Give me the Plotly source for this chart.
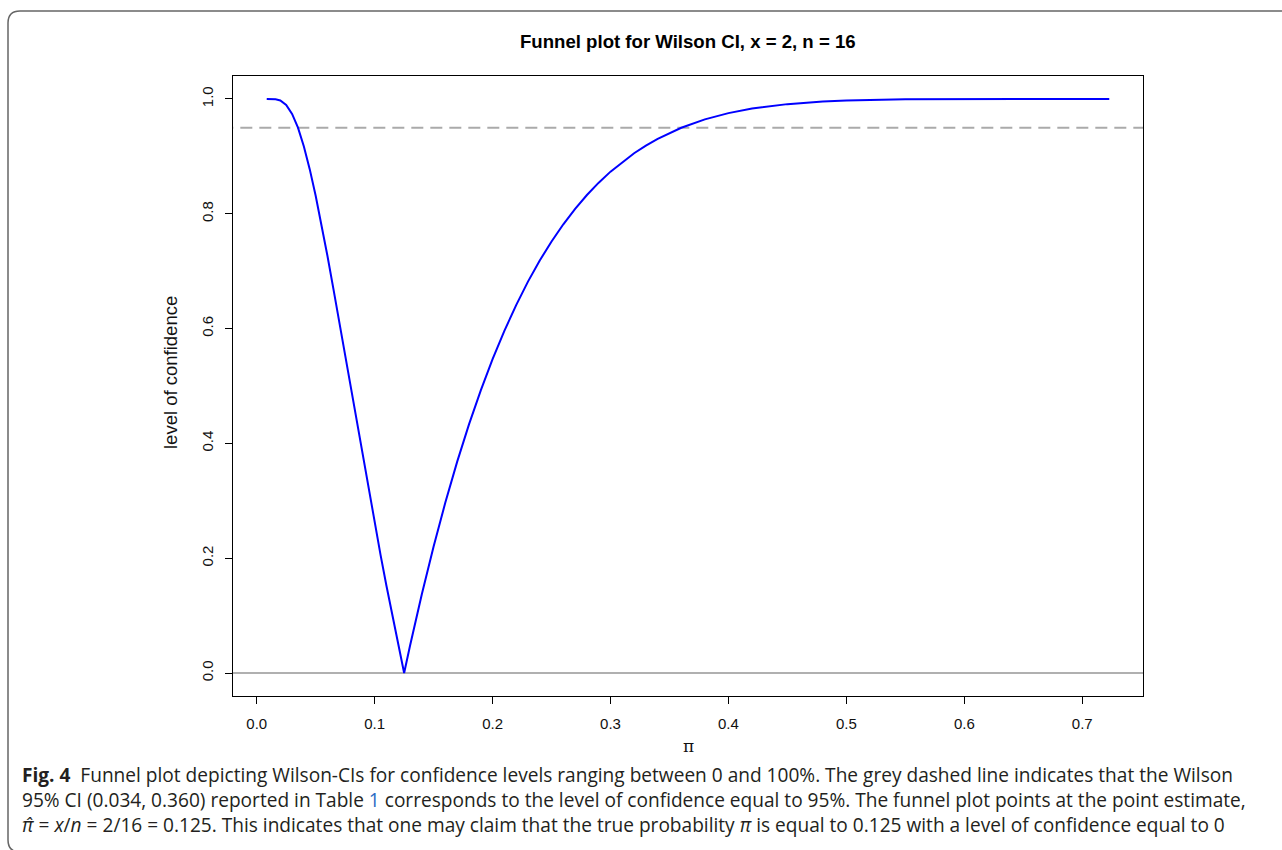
import plotly.graph_objects as go

# ---- data ----
pi_vals = [0.0085, 0.012, 0.016, 0.02, 0.025, 0.03, 0.035, 0.04, 0.045, 0.05,
           0.055, 0.06, 0.065, 0.07, 0.075, 0.08, 0.085, 0.09, 0.095, 0.10,
           0.105, 0.11, 0.115, 0.12, 0.125, 0.13, 0.14, 0.15, 0.16, 0.17,
           0.18, 0.19, 0.20, 0.21, 0.22, 0.23, 0.24, 0.25, 0.26, 0.27,
           0.28, 0.29, 0.30, 0.32, 0.33, 0.34, 0.35, 0.36, 0.38, 0.40,
           0.42, 0.45, 0.48, 0.50, 0.55, 0.60, 0.65, 0.7229]
conf_vals = [1.0, 1.0, 0.9995, 0.9973, 0.9896, 0.974, 0.9499, 0.9173, 0.8773, 0.8314,
             0.7806, 0.7264, 0.6697, 0.6114, 0.5523, 0.4930, 0.4338, 0.3753, 0.3176, 0.2611,
             0.2059, 0.1521, 0.0998, 0.0491, 0.0, 0.0474, 0.1373, 0.2206, 0.2974, 0.3682,
             0.4331, 0.4925, 0.5467, 0.5961, 0.6410, 0.6818, 0.7186, 0.7518, 0.7817, 0.8086,
             0.8327, 0.8542, 0.8734, 0.9055, 0.9188, 0.9305, 0.9408, 0.9498, 0.9644, 0.9753,
             0.9832, 0.9910, 0.9955, 0.9973, 0.9994, 0.9999, 1.0, 1.0]
ref_level = 0.95
zero_level = 0.0
x_ticks = [0.0, 0.1, 0.2, 0.3, 0.4, 0.5, 0.6, 0.7]
y_ticks = [0.0, 0.2, 0.4, 0.6, 0.8, 1.0]

title_text = "<b>Funnel plot for Wilson CI, x = 2, n = 16</b>"
x_title = "π"
y_title = "level of confidence"
caption_lines = [
    "<b>Fig. 4</b>  Funnel plot depicting Wilson-CIs for confidence levels ranging between 0 and 100%. The grey dashed line indicates that the Wilson",
    "95% CI (0.034, 0.360) reported in Table <span style='color:#2b6cc4'>1</span> corresponds to the level of confidence equal to 95%. The funnel plot points at the point estimate,",
    "<i>π̂</i> = <i>x</i>/<i>n</i> = 2/16 = 0.125. This indicates that one may claim that the true probability <i>π</i> is equal to 0.125 with a level of confidence equal to 0",
]

# ---- layout geometry (pixels) ----
W, H = 1282, 850
L, R, T, B = 233, 1143, 76, 696


def px(xp):
    return (xp - L) / (R - L)


def py(yp):
    return (B - yp) / (B - T)


fig = go.Figure()
fig.add_trace(go.Scatter(x=[-0.03, 0.76], y=[ref_level, ref_level], mode="lines",
                         line=dict(color="#aaaaaa", width=2, dash="12px,7px"), hoverinfo="skip",
                         showlegend=False))
fig.add_trace(go.Scatter(x=[-0.03, 0.76], y=[zero_level, zero_level], mode="lines",
                         line=dict(color="#b0b0b0", width=2), hoverinfo="skip", showlegend=False))
fig.add_trace(go.Scatter(x=pi_vals, y=conf_vals, mode="lines",
                         line=dict(color="#0000ff", width=2), showlegend=False))

axis_common = dict(showline=True, mirror=True, linecolor="black", linewidth=1,
                   ticks="outside", ticklen=7, tickwidth=1, tickcolor="black",
                   showgrid=False, zeroline=False,
                   tickfont=dict(family="Liberation Sans, Arial", size=15, color="#111111"))
fig.update_xaxes(range=[-0.0201, 0.7515], tickvals=x_ticks,
                 ticktext=[f"{v:.1f}" for v in x_ticks], ticklabelstandoff=7, **axis_common)
fig.update_yaxes(range=[-0.04, 1.04], tickvals=y_ticks,
                 ticktext=[f"{v:.1f}" for v in y_ticks], tickangle=-90,
                 ticklabelstandoff=6, **axis_common)

annotations = [
    dict(text=title_text, x=px(688), y=py(41), xref="paper", yref="paper", showarrow=False,
         xanchor="center", yanchor="middle",
         font=dict(family="Liberation Sans, Arial", size=18.6, color="black")),
    dict(text=x_title, x=0.5, y=py(746), xref="paper", yref="paper", showarrow=False,
         xanchor="center", yanchor="middle",
         font=dict(family="DejaVu Serif, serif", size=17, color="#111111")),
    dict(text=y_title, x=px(170), y=py(373), xref="paper", yref="paper", showarrow=False,
         xanchor="center", yanchor="middle", textangle=-90,
         font=dict(family="Liberation Sans, Arial", size=18.5, color="#111111")),
    dict(text="<br>".join(caption_lines), x=px(20), y=py(800), xref="paper", yref="paper",
         showarrow=False, xanchor="left", yanchor="middle", align="left",
         font=dict(family="Open Sans, Noto Sans", size=19.1, color="#231f20")),
]

# rounded border around the whole figure
x0, y0, x1, y1, rr = 8, 11, 1295, 852, 12
path = (f"M {px(x1)},{py(y0)} L {px(x0 + rr)},{py(y0)} "
        f"Q {px(x0)},{py(y0)} {px(x0)},{py(y0 + rr)} "
        f"L {px(x0)},{py(y1 - rr)} Q {px(x0)},{py(y1)} {px(x0 + rr)},{py(y1)} "
        f"L {px(x1)},{py(y1)}")
fig.add_shape(type="path", path=path, xref="paper", yref="paper",
              line=dict(color="#666666", width=1.5))

fig.update_layout(width=W, height=H, margin=dict(l=L, r=W - R, t=T, b=H - B),
                  plot_bgcolor="white", paper_bgcolor="white", annotations=annotations)

fig.write_html("out.html")
